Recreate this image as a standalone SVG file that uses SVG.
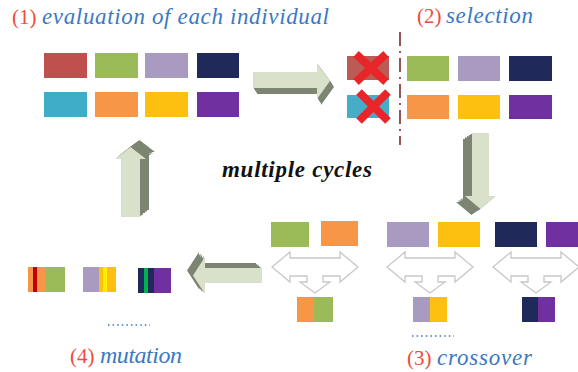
<svg xmlns="http://www.w3.org/2000/svg" xmlns:xlink="http://www.w3.org/1999/xlink" width="578" height="372" viewBox="0 0 578 372">
<style>
.num{font-family:"Liberation Serif","Times New Roman",serif;font-size:21px;fill:#ef4a3c}
.lbl{font-family:"Liberation Serif","Times New Roman",serif;font-size:23px;font-style:italic;fill:#3b78c3}
.mid{font-family:"Liberation Serif","Times New Roman",serif;font-size:23px;font-style:italic;font-weight:bold;fill:#111}
.red{fill:#c0504d}.grn{fill:#9bbb59}.lav{fill:#a99ac2}.nav{fill:#1f2a5a}
.cya{fill:#3fadc8}.org{fill:#f79646}.yel{fill:#fdc010}.pur{fill:#7030a0}
.dark{fill:#7c8572}.light{fill:#d9e1ca}
.tri{fill:#fff;stroke:#c8c8c8;stroke-width:1.3;stroke-linejoin:miter}
.dots{stroke:#3b74c4;stroke-width:1.6;stroke-dasharray:1.5 3.1;fill:none}
.x{stroke:#e8262a;stroke-width:8;stroke-linecap:butt}
</style>
<defs>
<polygon id="ar" points="253,72 317,72 317,63 330,81 317,99 317,88 253,88"/>
<polygon id="au" points="121,217 121,159 115,159 130.5,147 146,159 140,159 140,217"/>
<polygon id="ad" points="472,133 489,133 489,196 496,196 480.5,209 465,196 472,196"/>
<polygon id="al" points="262,268 205,268 205,257 193,275.5 205,294 205,283 262,283"/>
<path id="tri" d="M-43,15 L-25,0 L-25,6 L25,6 L25,0 L43,15 L25,30 L25,24 L8,24 L8,30 L15,30 L0,41 L-15,30 L-8,30 L-8,24 L-25,24 L-25,30 Z"/>
</defs>

<g id="label-evaluation">
<text class="num" x="12" y="24">(1)</text>
<text class="lbl" x="42" y="24" textLength="287" lengthAdjust="spacing">evaluation of each individual</text>
</g>
<g id="population">
<rect class="red" x="44" y="53" width="43" height="25"/>
<rect class="grn" x="95" y="53" width="43" height="25"/>
<rect class="lav" x="145" y="53" width="43" height="25"/>
<rect class="nav" x="197" y="53" width="42" height="25"/>
<rect class="cya" x="44" y="92" width="43" height="25"/>
<rect class="org" x="95" y="92" width="43" height="25"/>
<rect class="yel" x="145" y="92" width="43" height="25"/>
<rect class="pur" x="197" y="92" width="42" height="25"/>
</g>

<g id="label-selection">
<text class="num" x="417" y="23">(2)</text>
<text class="lbl" x="446" y="23" textLength="87" lengthAdjust="spacing">selection</text>
</g>
<g id="selection">
<rect x="347" y="56" width="42" height="24" fill="#bb5b55"/>
<rect x="347" y="95" width="42" height="23" fill="#45adc8"/>
<line class="x" x1="356" y1="54" x2="386" y2="82"/>
<line class="x" x1="386" y1="54" x2="356" y2="82"/>
<line class="x" x1="359" y1="92" x2="388" y2="121"/>
<line class="x" x1="388" y1="92" x2="359" y2="121"/>
<line x1="400" y1="32" x2="400" y2="145" stroke="#7d2a2a" stroke-width="1.6" stroke-dasharray="14 5 2 5"/>
<rect class="grn" x="407" y="56" width="42" height="25"/>
<rect class="lav" x="458" y="56" width="42" height="25"/>
<rect class="nav" x="509" y="56" width="43" height="25"/>
<rect class="org" x="407" y="95" width="42" height="24"/>
<rect class="yel" x="458" y="95" width="42" height="24"/>
<rect class="pur" x="509" y="95" width="43" height="24"/>
</g>

<g id="label-cycles">
<text class="mid" x="222" y="177" textLength="150" lengthAdjust="spacing">multiple cycles</text>
</g>

<g id="crossover">
<rect class="grn" x="271" y="222" width="38" height="25"/>
<rect class="org" x="321" y="221" width="37" height="25"/>
<rect class="lav" x="387" y="222" width="42" height="25"/>
<rect class="yel" x="438" y="222" width="42" height="25"/>
<rect class="nav" x="495" y="222" width="42" height="25"/>
<rect class="pur" x="546" y="222" width="42" height="25"/>
<rect class="org" x="297" y="297" width="17" height="25"/>
<rect class="grn" x="314" y="297" width="19" height="25"/>
<rect class="lav" x="413" y="297" width="17" height="25"/>
<rect class="yel" x="430" y="297" width="17" height="25"/>
<rect class="nav" x="522" y="297" width="16" height="25"/>
<rect class="pur" x="538" y="297" width="17" height="25"/>
<line class="dots" x1="412" y1="336" x2="454" y2="336"/>
</g>
<g id="label-crossover">
<text class="num" x="407" y="365">(3)</text>
<text class="lbl" x="437" y="365" textLength="95" lengthAdjust="spacing">crossover</text>
</g>

<g id="mutation">
<rect class="org" x="28" y="267" width="18" height="25"/>
<rect x="33" y="267" width="4" height="25" fill="#c00000"/>
<rect class="grn" x="46" y="267" width="19" height="25"/>
<rect class="lav" x="83" y="267" width="16" height="25"/>
<rect class="yel" x="99" y="267" width="17" height="25"/>
<rect x="103" y="267" width="4" height="25" fill="#ffee00"/>
<rect class="nav" x="138" y="268" width="16" height="25"/>
<rect x="144" y="268" width="4" height="25" fill="#00b050"/>
<rect class="pur" x="154" y="268" width="17" height="25"/>
<line class="dots" x1="108" y1="325" x2="150" y2="325"/>
</g>
<g id="label-mutation">
<text class="num" x="70" y="363">(4)</text>
<text class="lbl" x="100" y="363" style="font-size:24px" textLength="82" lengthAdjust="spacing">mutation</text>
</g>

<g id="connectors">
<g id="arrow-eval-to-select">
<use xlink:href="#ar" class="dark" transform="translate(4,6)"/>
<use xlink:href="#ar" class="dark" transform="translate(3,4.5)"/>
<use xlink:href="#ar" class="dark" transform="translate(2,3)"/>
<use xlink:href="#ar" class="dark" transform="translate(1,1.5)"/>
<use xlink:href="#ar" class="light"/>
</g>
<g id="arrow-select-to-crossover">
<use xlink:href="#ad" class="dark" transform="translate(-9,6)"/>
<use xlink:href="#ad" class="dark" transform="translate(-7,4.5)"/>
<use xlink:href="#ad" class="dark" transform="translate(-5,3.3)"/>
<use xlink:href="#ad" class="dark" transform="translate(-3,2)"/>
<use xlink:href="#ad" class="dark" transform="translate(-1.5,1)"/>
<use xlink:href="#ad" class="light"/>
</g>
<g id="arrow-crossover-to-mutation">
<use xlink:href="#al" class="dark" transform="translate(-6,-5)"/>
<use xlink:href="#al" class="dark" transform="translate(-4.5,-3.7)"/>
<use xlink:href="#al" class="dark" transform="translate(-3,-2.5)"/>
<use xlink:href="#al" class="dark" transform="translate(-1.5,-1.2)"/>
<use xlink:href="#al" class="light"/>
</g>
<g id="arrow-mutation-to-eval">
<use xlink:href="#au" class="dark" transform="translate(9,-7)"/>
<use xlink:href="#au" class="dark" transform="translate(7,-5.5)"/>
<use xlink:href="#au" class="dark" transform="translate(5,-4)"/>
<use xlink:href="#au" class="dark" transform="translate(3,-2.3)"/>
<use xlink:href="#au" class="dark" transform="translate(1.5,-1.2)"/>
<use xlink:href="#au" class="light"/>
</g>
<use xlink:href="#tri" class="tri" transform="translate(315,252)"/>
<use xlink:href="#tri" class="tri" transform="translate(430,252)"/>
<use xlink:href="#tri" class="tri" transform="translate(536,252)"/>
</g>
</svg>
